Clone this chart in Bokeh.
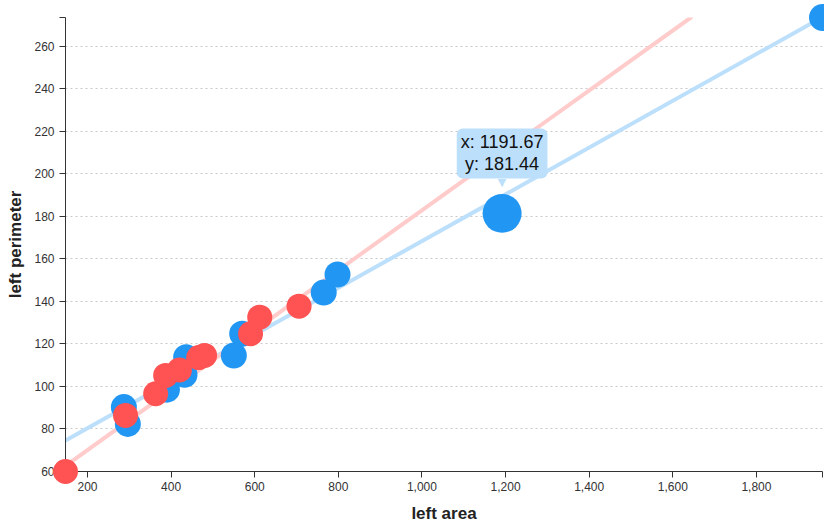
from bokeh.plotting import figure
from bokeh.models import Range1d, FixedTicker, NumeralTickFormatter, Label
from bokeh.embed import file_html
from bokeh.resources import INLINE

# ---- data ----
blue_x = [287, 296.5, 390, 432, 436, 550, 570, 765, 798, 1191.67, 1958]
blue_y = [90.3, 82.4, 98.5, 105.5, 113.8, 114.6, 124.8, 144.2, 152.7, 181.44, 273.6]
blue_size = [26, 26, 26, 26, 26, 26, 26, 26, 26, 39, 27]

red_x = [147.4, 291, 363, 387, 420, 466, 480, 590, 612, 706]
red_y = [60, 86.4, 96.6, 105.2, 107.8, 113.6, 114.6, 124.8, 132.6, 137.8]
red_size = [25, 25, 25, 25, 25, 25, 25, 25, 25, 25]

# trend lines (slope, intercept)
blue_slope, blue_intercept = 0.1100, 58.4
red_slope, red_intercept = 0.1410, 41.9

tip_x, tip_y = 1191.67, 181.44

x_ticks = [200, 400, 600, 800, 1000, 1200, 1400, 1600, 1800]
y_ticks = [60, 80, 100, 120, 140, 160, 180, 200, 220, 240, 260]

BLUE = "#2196f3"
RED = "#ff5252"
BLUE_LIGHT = "#bcdffb"
RED_LIGHT = "#ffcbcb"
FONT = "Liberation Sans"

x_min = min(blue_x + red_x)
x_max = max(blue_x + red_x)
y_min = min(blue_y + red_y)
y_max = max(blue_y + red_y)

p = figure(width=824, height=525, output_backend="svg", toolbar_location=None,
           x_range=Range1d(x_min, x_max), y_range=Range1d(y_min, y_max),
           min_border_left=65, min_border_right=2, min_border_top=17,
           min_border_bottom=54)
p.outline_line_color = None
p.background_fill_color = "white"
p.border_fill_color = "white"

# ticks incl. outer ticks at range ends
p.xaxis.ticker = FixedTicker(ticks=[x_min] + x_ticks + [x_max])
p.yaxis.ticker = FixedTicker(ticks=y_ticks + [y_max])
p.xaxis.major_label_overrides = {x_min: "", x_max: ""}
p.yaxis.major_label_overrides = {y_max: ""}
p.xaxis.formatter = NumeralTickFormatter(format="0,0")

p.xgrid.visible = False
p.ygrid.ticker = FixedTicker(ticks=y_ticks)
p.ygrid.grid_line_color = "#c8c8c8"
p.ygrid.grid_line_dash = "2 3"
p.ygrid.grid_line_width = 1

for ax in (p.xaxis[0], p.yaxis[0]):
    ax.axis_line_color = "#333333"
    ax.axis_line_width = 1
    ax.major_tick_line_color = "#333333"
    ax.minor_tick_line_color = None
    ax.major_tick_out = 6
    ax.major_tick_in = 0
    ax.major_label_text_font = FONT
    ax.major_label_text_font_size = "12px"
    ax.major_label_text_color = "#333333"
    ax.axis_label_text_font = FONT
    ax.axis_label_text_font_style = "bold"
    ax.axis_label_text_font_size = "17px"
    ax.axis_label_text_color = "#222222"

p.xaxis.axis_label = "left area"
p.yaxis.axis_label = "left perimeter"
p.xaxis.major_label_standoff = 4
p.yaxis.major_label_standoff = 5
p.xaxis.axis_label_standoff = 10
p.yaxis.axis_label_standoff = 6

# trend lines
def line_pts(m, b):
    x_end = min(x_max, (y_max - b) / m)
    xs = [x_min, x_end]
    return xs, [m * v + b for v in xs]

bxs, bys = line_pts(blue_slope, blue_intercept)
rxs, rys = line_pts(red_slope, red_intercept)
p.line(bxs, bys, line_color=BLUE_LIGHT, line_width=4, line_cap="round")
p.line(rxs, rys, line_color=RED_LIGHT, line_width=4, line_cap="round")

rb = p.scatter(blue_x, blue_y, size=blue_size, fill_color=BLUE, line_color=None)
rr = p.scatter(red_x, red_y, size=red_size, fill_color=RED, line_color=None)
rb.level = "overlay"
rr.level = "overlay"

# tooltip
tip = Label(x=tip_x, y=tip_y, text=f"x: {tip_x:.2f}\ny: {tip_y:.2f}",
            y_offset=35, text_align="center", text_baseline="bottom",
            text_font=FONT, text_font_size="18px", text_color="#111111",
            background_fill_color=BLUE_LIGHT, padding=4, border_radius=6,
            text_line_height=1.1, level="overlay")
p.add_layout(tip)
ptr = Label(x=tip_x, y=tip_y, text="\u25BC", y_offset=24, text_align="center",
            text_baseline="bottom", text_font="DejaVu Sans", text_font_size="11px",
            text_color=BLUE_LIGHT, level="overlay")
p.add_layout(ptr)

open("out.html", "w").write(file_html(p, INLINE))
